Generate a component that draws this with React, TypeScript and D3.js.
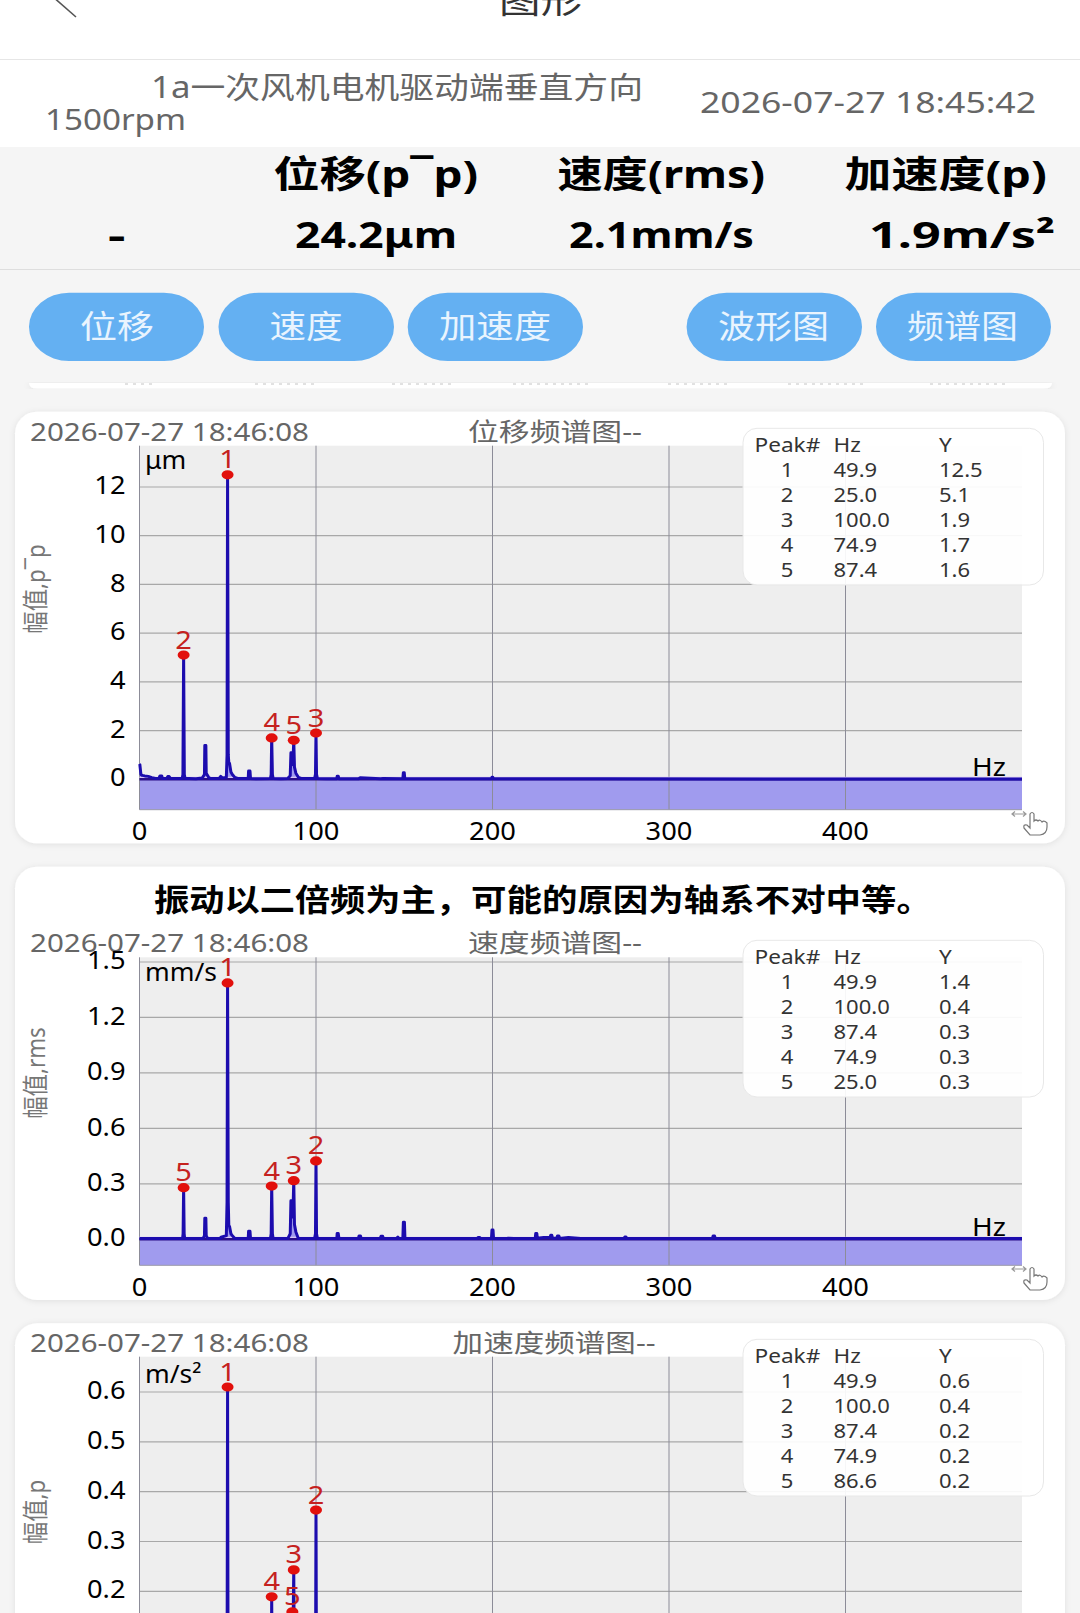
import React from "react";
import * as d3 from "d3";

const FONT = '"Noto Sans","Noto Sans CJK SC",sans-serif';

// ---- data ----
const xTicks = [0, 100, 200, 300, 400];
const peakRanks = [1, 2, 3, 4, 5];

const dispTicks = [0, 2, 4, 6, 8, 10, 12];
const dispPeakHz = [49.9, 25.0, 100.0, 74.9, 87.4];
const dispPeakY = [12.5, 5.1, 1.9, 1.7, 1.6];
const dispPeakLabel = ["12.5", "5.1", "1.9", "1.7", "1.6"];
const dispHz = [0, 0.2, 0.8, 1.6, 3, 5, 7, 9, 11, 11.6, 12, 12.6, 13, 15.4, 16, 16.8, 17.6, 24.2, 24.6, 25, 25.4, 25.8, 28, 32, 35.5, 36.8, 37, 37.6, 37.8, 39, 40, 45, 46, 47, 49.2, 49.6, 49.9, 50.3, 50.6, 51, 51.8, 52.6, 54, 56, 61.6, 61.8, 62.6, 62.9, 66, 74.2, 74.6, 74.9, 75.3, 75.7, 80, 84, 85.4, 85.8, 86.4, 86.9, 87.4, 87.8, 88.6, 90, 92, 99.2, 99.7, 100, 100.3, 100.8, 106, 111.8, 112, 112.6, 113, 124, 125, 136.6, 138, 149.2, 149.5, 150, 150.3, 160, 199.4, 199.7, 200.2, 200.6, 262, 500];
const dispAmp = [0.63, 0.6, 0.2, 0.16, 0.14, 0.12, 0.07, 0.03, 0.04, 0.14, 0.14, 0.14, 0.03, 0.03, 0.11, 0.11, 0.03, 0.03, 0.2, 5.1, 0.2, 0.03, 0.03, 0.02, 0.05, 0.2, 1.39, 1.39, 0.25, 0.1, 0.03, 0.03, 0.12, 0.05, 0.08, 1, 12.5, 1, 0.68, 0.66, 0.3, 0.2, 0.08, 0.03, 0.03, 0.34, 0.34, 0.03, 0.02, 0.03, 0.2, 1.7, 0.2, 0.03, 0.02, 0.03, 0.15, 1.09, 1.09, 0.6, 1.6, 0.5, 0.25, 0.08, 0.03, 0.03, 0.2, 1.9, 0.2, 0.03, 0.02, 0.02, 0.13, 0.13, 0.02, 0.02, 0.06, 0.02, 0.03, 0.02, 0.27, 0.27, 0.02, 0.02, 0.02, 0.08, 0.08, 0.02, 0.02, 0.01];

const veloTicks = [0, 0.3, 0.6, 0.9, 1.2, 1.5];
const veloPeakHz = [49.9, 100.0, 87.4, 74.9, 25.0];
const veloPeakY = [1.387, 0.424, 0.317, 0.288, 0.279];
const veloPeakLabel = ["1.4", "0.4", "0.3", "0.3", "0.3"];
const veloHz = [0, 24.4, 24.7, 25, 25.3, 25.6, 36, 36.8, 37, 37.6, 37.8, 38.6, 45.6, 46.2, 49.2, 49.6, 49.9, 50.3, 50.6, 51, 51.8, 52.6, 54, 61.6, 61.8, 62.6, 62.9, 74.2, 74.6, 74.9, 75.3, 75.7, 84, 85.4, 85.8, 86.4, 86.9, 87.4, 87.8, 88.6, 90, 99.2, 99.7, 100, 100.3, 100.8, 102, 111.8, 112, 112.6, 113, 124, 124.4, 125.2, 125.6, 136.4, 136.8, 137.8, 138.2, 145.6, 146.4, 147, 149.2, 149.5, 150.1, 150.4, 170, 191.4, 191.8, 192.8, 193.2, 199.4, 199.7, 200.3, 200.6, 208, 209, 212, 224.2, 224.5, 225.1, 225.4, 229, 232.6, 233, 233.6, 234, 236.4, 236.8, 237.6, 238, 243, 250, 274.6, 275, 275.6, 276, 324.6, 325, 325.8, 326.2, 500];
const veloAmp = [0.004, 0.004, 0.03, 0.279, 0.03, 0.004, 0.004, 0.02, 0.114, 0.114, 0.02, 0.004, 0.004, 0.011, 0.02, 0.2, 1.387, 0.2, 0.072, 0.07, 0.03, 0.02, 0.004, 0.004, 0.043, 0.043, 0.004, 0.004, 0.03, 0.288, 0.03, 0.004, 0.004, 0.03, 0.209, 0.209, 0.12, 0.317, 0.08, 0.04, 0.004, 0.004, 0.03, 0.424, 0.03, 0.004, 0.004, 0.004, 0.032, 0.032, 0.004, 0.004, 0.018, 0.018, 0.004, 0.004, 0.016, 0.016, 0.004, 0.004, 0.012, 0.004, 0.004, 0.092, 0.092, 0.004, 0.004, 0.004, 0.01, 0.01, 0.004, 0.004, 0.05, 0.05, 0.004, 0.004, 0.006, 0.004, 0.004, 0.032, 0.032, 0.006, 0.01, 0.01, 0.022, 0.022, 0.006, 0.006, 0.018, 0.018, 0.004, 0.01, 0.005, 0.004, 0.013, 0.013, 0.004, 0.004, 0.018, 0.018, 0.004, 0.004];

const accelTicks = [0.2, 0.3, 0.4, 0.5, 0.6];
const accelPeakHz = [49.9, 100.0, 87.4, 74.9, 86.6];
const accelPeakY = [0.61, 0.363, 0.243, 0.189, 0.159];
const accelPeakLabel = ["0.6", "0.4", "0.2", "0.2", "0.2"];
const accelHz = [0, 49.6, 49.9, 50.2, 74.6, 74.9, 75.2, 85.8, 86.6, 86.9, 87.4, 87.8, 99.7, 100, 100.3, 500];
const accelAmp = [0, 0, 0.61, 0, 0, 0.189, 0, 0, 0.159, 0.1, 0.243, 0, 0, 0.363, 0, 0];

const headerTitles = ["位移(p¯p)", "速度(rms)", "加速度(p)"];
const headerValues = ["-", "24.2μm", "2.1mm/s", "1.9m/s²"];
const buttons = ["位移", "速度", "加速度", "波形图", "频谱图"];
const timestamp = "2026-07-27 18:46:08";

// ---- layout ----
const px = d3.scaleLinear().domain([0, 500]).range([139.5, 1022]);

function T({ x, y, fs, w, sx = 1, anchor = "start", fill = "#000", weight = 400, children }: any) {
  const base = y + fs * 0.36;
  if (w != null) {
    return (
      <text x={x} y={base} fontSize={fs} fill={fill} fontWeight={weight} fontFamily={FONT} textLength={w} lengthAdjust="spacingAndGlyphs">
        {children}
      </text>
    );
  }
  return (
    <text transform={`translate(${x},${base}) scale(${sx},1)`} fontSize={fs} fill={fill} fontWeight={weight} fontFamily={FONT} textAnchor={anchor}>
      {children}
    </text>
  );
}

function Hand({ y }: { y: number }) {
  return (
    <g transform={`translate(1011,${y})`} fill="none" stroke="#777" strokeWidth={1.2}>
      <path d="M1,3 H15 M4,0.5 L1,3 L4,5.5 M12,0.5 L15,3 L12,5.5" stroke="#999" />
      <path d="M13,17 L19,24 H29 Q36,23 36,16 V12 Q33,9 31,11 Q29,8 27,10 Q25,8 23,10 V3 Q21,0 19,3 V17 L16,14 Q12,13 13,17 Z" fill="#fff" />
    </g>
  );
}

function Chart(props: any) {
  const { ticks, fmt, yLo, yHi, pLo, pHi, top, bottom, hz, amp, peakHz, peakY, peakLabel, unit, unitY, axisLabel, axisY, legendTop, hzY, xLabelY, handY } = props;
  const py = d3.scaleLinear().domain([yLo, yHi]).range([pLo, pHi]);
  const idx = d3.range(hz.length);
  const line = d3.line<number>().x((i) => px(hz[i])).y((i) => py(amp[i]));
  const area = d3.area<number>().x((i) => px(hz[i])).y0(bottom).y1((i) => py(amp[i]));
  const zero = py(0);
  const rowY = [0, 25, 49.7, 75, 100, 125];
  return (
    <g>
      <rect x={139.5} y={top} width={882.5} height={bottom - top} fill="#eeeeee" />
      <path d={area(idx) as string} fill="#a09bee" />
      {ticks.map((t: number) => (
        <line key={t} x1={139.5} x2={1022} y1={py(t)} y2={py(t)} stroke="#a8a8a8" strokeWidth={1.2} />
      ))}
      {xTicks.map((t) => (
        <line key={t} x1={px(t)} x2={px(t)} y1={top} y2={bottom} stroke="#8c8c98" strokeWidth={1} />
      ))}
      <line x1={139.5} x2={1022} y1={bottom} y2={bottom} stroke="#9a9aa8" strokeWidth={1} />
      <line x1={139.5} x2={1022} y1={zero - 2} y2={zero - 2} stroke="#d8c6f6" strokeWidth={1.2} />
      <line x1={139.5} x2={1022} y1={zero} y2={zero} stroke="#2b0f86" strokeWidth={2.6} />
      <path d={line(idx) as string} fill="none" stroke="#1c0cae" strokeWidth={3} strokeLinejoin="round" />
      {ticks.map((t: number) => (
        <T key={t} x={125.5} y={py(t) - 2} fs={25.5} sx={1.07} anchor="end">{fmt(t)}</T>
      ))}
      {xLabelY != null && xTicks.map((t) => (
        <T key={t} x={px(t)} y={xLabelY} fs={25.5} sx={1.07} anchor="middle">{t}</T>
      ))}
      <T x={145} y={unitY} fs={24.5} sx={1.08}>{unit}</T>
      {hzY != null && <T x={972} y={hzY} fs={25} sx={1.12}>Hz</T>}
      <g transform={`translate(36,${axisY}) rotate(-90) scale(0.86,1)`}>
        <text fontSize={26} fill="#777" fontFamily={FONT} textAnchor="middle" dy={9}>{axisLabel}</text>
      </g>
      {peakHz.map((f: number, i: number) => (
        <g key={i}>
          <T x={px(f)} y={py(peakY[i]) - 15.5} fs={25} sx={1.16} anchor="middle" fill="#c5221f">{peakRanks[i]}</T>
          <ellipse cx={px(f)} cy={py(peakY[i])} rx={6} ry={4.6} fill="#e2100c" />
        </g>
      ))}
      <rect x={743} y={legendTop} width={300.5} height={156.7} rx={14} fill="#fff" fillOpacity={0.92} stroke="#e8e8e8" strokeWidth={1} />
      {["Peak#", "Hz", "Y"].map((h, i) => (
        <T key={h} x={[754.5, 833.5, 939][i]} y={legendTop + 16.6} fs={20} sx={1.13} fill="#333">{h}</T>
      ))}
      {peakHz.map((f: number, i: number) => (
        <g key={i}>
          <T x={787} y={legendTop + 16.6 + rowY[i + 1]} fs={20} sx={1.1} anchor="middle" fill="#333">{peakRanks[i]}</T>
          <T x={833.5} y={legendTop + 16.6 + rowY[i + 1]} fs={20} sx={1.1} fill="#333">{f.toFixed(1)}</T>
          <T x={939} y={legendTop + 16.6 + rowY[i + 1]} fs={20} sx={1.1} fill="#333">{peakLabel[i]}</T>
        </g>
      ))}
      {hzY != null && <Hand y={handY} />}
    </g>
  );
}

const btnBoxes = [[29, 204], [218.5, 394], [407.7, 583], [686.6, 862], [876, 1051]];
const btnText = [[80, 74], [269.5, 73], [439, 112], [718, 111], [907, 111]];
const headX = [[273.6, 204.5], [557.5, 207.5], [844.5, 202.5]];
const valX = [[108, 17.5], [295, 162], [569, 185], [869, 186]];
const cutoffDots = [[125, 153], [255, 317], [392, 455], [513, 592], [668, 730], [788, 868], [930, 1005]];

const cardShadow = "url(#cs)";

export default function App() {
  return (
    <svg width={1080} height={1613} viewBox="0 0 1080 1613" style={{ position: "absolute", left: 0, top: 0, display: "block" }}>
      <defs>
        <filter id="cs" x="-5%" y="-5%" width="110%" height="110%">
          <feDropShadow dx={0} dy={1} stdDeviation={3} floodColor="#000" floodOpacity={0.09} />
        </filter>
      </defs>
      <rect width={1080} height={1613} fill="#f5f5f5" />
      <rect width={1080} height={147} fill="#ffffff" />
      <line x1={0} x2={1080} y1={59.5} y2={59.5} stroke="#e6e6e6" strokeWidth={1.2} />
      <path d="M52,-4 L76,17" stroke="#555" strokeWidth={1.6} fill="none" />
      <T x={499} y={1} fs={33} w={83} fill="#333">图形</T>
      <T x={151} y={87} fs={30} w={492} fill="#666">1a一次风机电机驱动端垂直方向</T>
      <T x={45} y={119.5} fs={29} w={141} fill="#666">1500rpm</T>
      <T x={700} y={103} fs={29} w={336} fill="#666">2026-07-27 18:45:42</T>

      {headerTitles.map((h, i) => (
        <T key={h} x={headX[i][0]} y={175} fs={37} w={headX[i][1]} weight={700}>{h}</T>
      ))}
      {headerValues.map((h, i) => (
        <T key={h} x={valX[i][0]} y={235.5} fs={36} w={valX[i][1]} weight={700}>{h}</T>
      ))}
      <line x1={0} x2={1080} y1={269.5} y2={269.5} stroke="#dedede" strokeWidth={1.2} />

      {buttons.map((b, i) => (
        <g key={b}>
          <rect x={btnBoxes[i][0]} y={292.7} width={btnBoxes[i][1] - btnBoxes[i][0]} height={68.3} rx={40} ry={34} fill="#64b0f2" />
          <T x={btnText[i][0]} y={326} fs={32} w={btnText[i][1]} fill="#e9f4fe">{b}</T>
        </g>
      ))}

      <path d="M29,383 H1052 Q1052,388.5 1044,388.5 H37 Q29,388.5 29,383 Z" fill="#fff" filter={cardShadow} />
      {cutoffDots.map((d, i) => (
        <line key={i} x1={d[0]} x2={d[1]} y1={384} y2={384} stroke="#c4c4c4" strokeWidth={1} strokeDasharray="3 5" />
      ))}

      {/* displacement */}
      <rect x={15} y={411.7} width={1050} height={431.6} rx={22} fill="#fff" filter={cardShadow} />
      <T x={30} y={432} fs={25} w={279} fill="#666">{timestamp}</T>
      <T x={468} y={432} fs={25} w={174} fill="#666">位移频谱图--</T>
      <Chart ticks={dispTicks} fmt={(t: number) => String(t)} yLo={0} yHi={12} pLo={779.3} pHi={487} top={445.7} bottom={809.7}
        hz={dispHz} amp={dispAmp} peakHz={dispPeakHz} peakY={dispPeakY} peakLabel={dispPeakLabel}
        unit="μm" unitY={460} axisLabel="幅值,p¯p" axisY={589} legendTop={428.3} hzY={766.5} xLabelY={831} handY={811} />

      {/* velocity */}
      <rect x={15} y={866.7} width={1050} height={433.3} rx={22} fill="#fff" filter={cardShadow} />
      <T x={154} y={900} fs={31} w={317} weight={700}>振动以二倍频为主，</T>
      <T x={471} y={900} fs={31} w={461} weight={700}>可能的原因为轴系不对中等。</T>
      <T x={30} y={943} fs={25} w={279} fill="#666">{timestamp}</T>
      <T x={468} y={943} fs={25} w={174} fill="#666">速度频谱图--</T>
      <Chart ticks={veloTicks} fmt={(t: number) => t.toFixed(1)} yLo={0} yHi={1.5} pLo={1239.3} pHi={962} top={957.3} bottom={1265.3}
        hz={veloHz} amp={veloAmp} peakHz={veloPeakHz} peakY={veloPeakY} peakLabel={veloPeakLabel}
        unit="mm/s" unitY={972} axisLabel="幅值,rms" axisY={1073} legendTop={940.3} hzY={1226.5} xLabelY={1287} handY={1266} />

      {/* acceleration */}
      <rect x={15} y={1323.3} width={1050} height={330} rx={22} fill="#fff" filter={cardShadow} />
      <T x={30} y={1342.5} fs={25} w={279} fill="#666">{timestamp}</T>
      <T x={452.6} y={1342.5} fs={25} w={203} fill="#666">加速度频谱图--</T>
      <Chart ticks={accelTicks} fmt={(t: number) => t.toFixed(1)} yLo={0.2} yHi={0.6} pLo={1591.3} pHi={1392} top={1356.7} bottom={1640}
        hz={accelHz} amp={accelAmp} peakHz={accelPeakHz} peakY={accelPeakY} peakLabel={accelPeakLabel}
        unit="m/s²" unitY={1374} axisLabel="幅值,p" axisY={1512} legendTop={1339.3} />
    </svg>
  );
}
